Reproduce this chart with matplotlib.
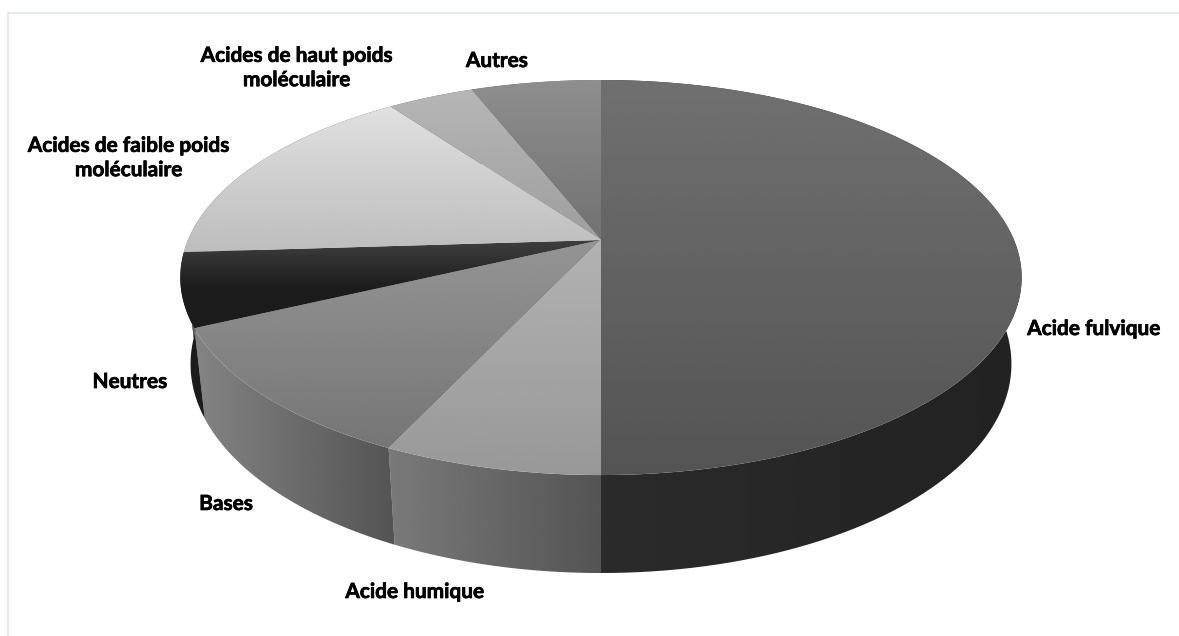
import numpy as np
import matplotlib
matplotlib.use('Agg')
import matplotlib.pyplot as plt
import matplotlib.patheffects as pe
from matplotlib.patches import Polygon

# parts of the pie, clockwise from the top
labels = ['Acide fulvique', 'Acide humique', 'Bases', 'Neutres',
          'Acides de faible poids\nmoléculaire',
          'Acides de haut poids\nmoléculaire', 'Autres']
values = [50, 7, 11, 6, 16, 4, 6]

# grey level of each face: (top of wedge, bottom of wedge), (left of side, right of side)
top_greys = [(0x70, 0x54), (0xb2, 0x98), (0x94, 0x76), (0x40, 0x00),
             (0xe0, 0xbd), (0xb6, 0x9e), (0x8e, 0x72)]
side_greys = [(0x2b, 0x22), (0x7a, 0x54), (0x84, 0x54), (0x1c, 0x1c),
              (0x60, 0x60), (0x60, 0x60), (0x60, 0x60)]
label_pos = [(1094, 329), (415, 592), (226, 504), (130, 382),
             (129, 158), (297, 68), (497, 61)]

# perspective of the pie in pixels
CX, CY = 601, 240
A, B, C = 413, 144.8, -0.19
DROP, SHRINK = 93.1, 0.024
DARKEST = 0x1c

plt.rcParams['font.family'] = ['Lato', 'DejaVu Sans']


def project(theta, r=1.0, low=False):
    u = r * np.sin(theta)
    v = -r * np.cos(theta)
    w = 1 + C * v + (SHRINK if low else 0)
    x = CX + A * u / w
    y = (CY + B * v + (DROP if low else 0)) / w
    return x, y


def fill_gradient(ax, pts, c0, c1, vertical, zorder):
    x0, x1 = pts[:, 0].min(), pts[:, 0].max()
    y0, y1 = pts[:, 1].min(), pts[:, 1].max()
    grad = np.maximum(np.linspace(c0, c1, 256), DARKEST)
    grad = grad.reshape(-1, 1) if vertical else grad.reshape(1, -1)
    im = ax.imshow(grad, extent=(x0, x1, y1, y0), aspect='auto', cmap='gray',
                   vmin=0, vmax=255, interpolation='bilinear', zorder=zorder)
    im.set_clip_path(Polygon(pts, closed=True, transform=ax.transData))


fig = plt.figure(figsize=(11.79, 6.36), dpi=100)
ax = fig.add_axes([0, 0, 1, 1])

# thin frame, open on the right and at the bottom
ax.plot([8, 8, 1179], [636, 12.5, 12.5], color='#dfe6f0', lw=1.2, zorder=1)

edges = 2 * np.pi * np.cumsum([0] + values) / sum(values)

# outer walls first
for i in range(len(values)):
    t = np.linspace(edges[i], edges[i + 1], 120)
    xt, yt = project(t)
    xb, yb = project(t, low=True)
    pts = np.column_stack([np.r_[xt, xb[::-1]], np.r_[yt, yb[::-1]]])
    fill_gradient(ax, pts, side_greys[i][0], side_greys[i][1], False, 2 + 0.01 * i)

# then the top faces
for i in range(len(values)):
    t = np.linspace(edges[i], edges[i + 1], 160)
    xt, yt = project(t)
    x0, y0 = project(0.0, r=0.0)
    pts = np.column_stack([np.r_[x0, xt], np.r_[y0, yt]])
    fill_gradient(ax, pts, top_greys[i][0], top_greys[i][1], True, 3 + 0.01 * i)

# Lato bold is a bit thin next to the original, so thicken it slightly
for lab, (x, y) in zip(labels, label_pos):
    ax.text(x, y, lab, ha='center', va='center', fontsize=15, fontweight='bold',
            color='black', linespacing=1.27, zorder=5,
            path_effects=[pe.withStroke(linewidth=0.5, foreground='black')])

ax.set_xlim(0, 1179)
ax.set_ylim(636, 0)
ax.axis('off')
fig.savefig('out.png', dpi=100, facecolor='white')
